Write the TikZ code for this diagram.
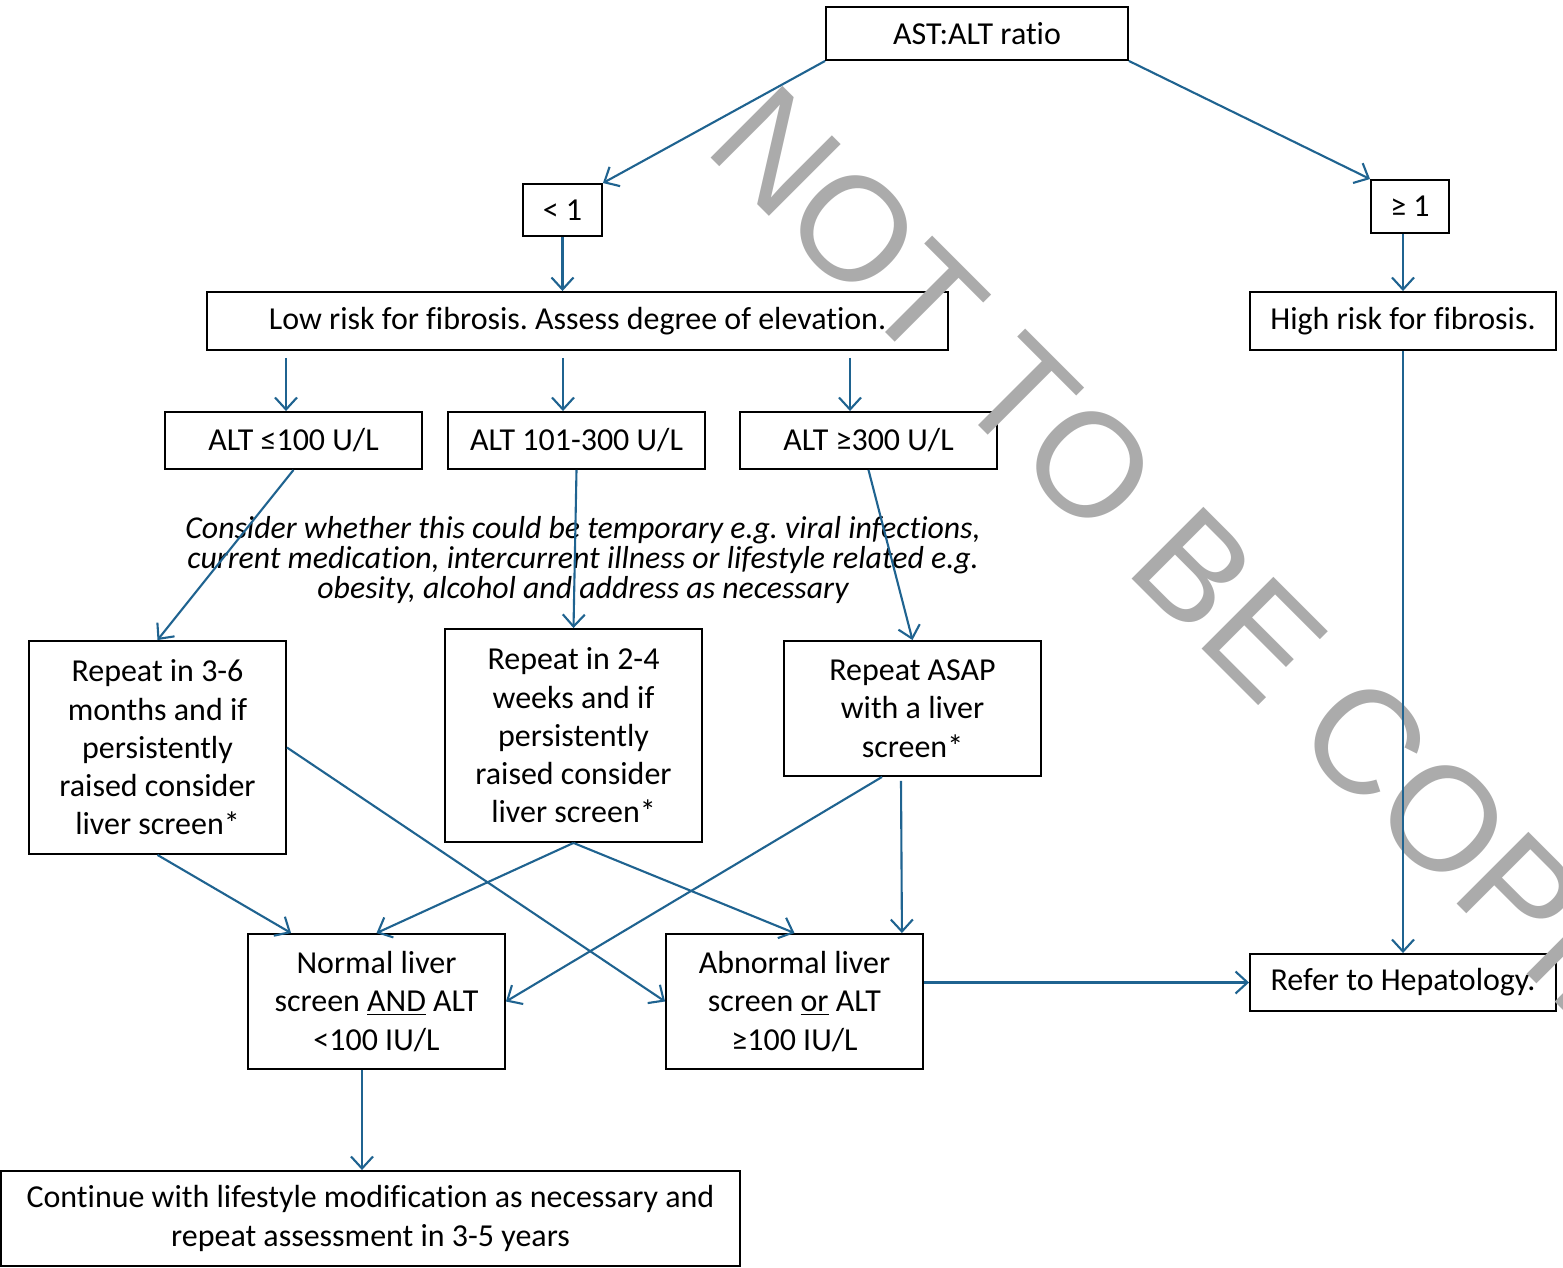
\documentclass[tikz,border=0pt]{standalone}
\usepackage{fontspec}
\setmainfont{Carlito}[Ligatures={NoCommon}]
\newfontfamily\wmfont{Liberation Sans}
\usetikzlibrary{arrows.meta,calc}
\definecolor{conn}{HTML}{1F6390}
\definecolor{wm}{HTML}{ABABAB}
\frenchspacing
\begin{document}
\begin{tikzpicture}[x=0.02cm,y=-0.02cm,
  box/.style={draw=black,line width=1.1pt,inner sep=0pt,align=center,font=\fontsize{18.2}{21.8}\selectfont},
  arr/.style={draw=conn,line width=1.2pt,-{Straight Barb[length=2.4mm,width=4.4mm,line width=1.2pt]}},
  note/.style={align=center,inner sep=0pt,font=\itshape\fontsize{18.1}{17.3}\selectfont},
  wmark/.style={anchor=base west,rotate=-45,inner sep=0pt,text=wm,font=\wmfont\fontsize{84}{90}\selectfont},
]
\useasboundingbox (0,0) rectangle (1563,1268);

\node[box,minimum width=6.04cm,minimum height=1.06cm] (ast) at (977,33.5) {AST:ALT ratio};
\node[box,minimum width=1.58cm,minimum height=1.04cm] (lt1) at (562.5,210) {< 1};
\node[box,minimum width=1.56cm,minimum height=1.06cm] (ge1) at (1410,206.5) {≥ 1};
\node[box,minimum width=14.82cm,minimum height=1.16cm] (low) at (577.5,321) {Low risk for fibrosis. Assess degree of elevation.};
\node[box,minimum width=6.12cm,minimum height=1.16cm] (high) at (1403,321) {High risk for fibrosis.};

\node[box,minimum width=5.14cm,minimum height=1.14cm] (a1) at (293.5,440.5) {ALT ≤100 U/L};
\node[box,minimum width=5.14cm,minimum height=1.14cm] (a2) at (576.5,440.5) {ALT 101-300 U/L};
\node[box,minimum width=5.14cm,minimum height=1.14cm] (a3) at (868.5,440.5) {ALT ≥300 U/L};

\node[note] (nt) at (583,560) {Consider whether this could be temporary e.g. viral infections,\\current medication, intercurrent illness or lifestyle related e.g.\\obesity, alcohol and address as necessary};

\node[box,minimum width=5.14cm,minimum height=4.26cm] (r1) at (157.5,747.5) {Repeat in 3-6\\months and if\\persistently\\raised consider\\liver screen*};
\node[box,minimum width=5.14cm,minimum height=4.26cm] (r2) at (573.5,735.5) {Repeat in 2-4\\weeks and if\\persistently\\raised consider\\liver screen*};
\node[box,minimum width=5.14cm,minimum height=2.7cm] (r3) at (912.5,708.5) {Repeat ASAP\\with a liver\\screen*};

\node[box,minimum width=5.14cm,minimum height=2.7cm] (nrm) at (376.5,1001.5) {Normal liver\\screen \underline{AND} ALT\\<100 IU/L};
\node[box,minimum width=5.14cm,minimum height=2.7cm] (abn) at (794.5,1001.5) {Abnormal liver\\screen \underline{or} ALT\\≥100 IU/L};
\node[box,minimum width=6.12cm,minimum height=1.14cm] (ref) at (1403,982.5) {Refer to Hepatology.};
\node[box,minimum width=14.78cm,minimum height=1.9cm] (cont) at (370.5,1218.5) {Continue with lifestyle modification as necessary and\\repeat assessment in 3-5 years};

\draw[arr] (ast.south west) -- (lt1.north east);
\draw[arr] (ast.south east) -- (ge1.north west);
\draw[arr] (lt1.south) -- (lt1.south |- low.north);
\draw[arr] (ge1.south -| high.north) -- (high.north);
\draw[arr] ($(low.south -| a1.north)+(-7.5,7)$) -- ($(a1.north)+(-7.5,0)$);
\draw[arr] ($(low.south -| a2.north)+(-13.5,7)$) -- ($(a2.north)+(-13.5,0)$);
\draw[arr] ($(low.south -| a3.north)+(-18.5,7)$) -- ($(a3.north)+(-18.5,0)$);
\draw[arr] (a1.south) -- (r1.north);
\draw[arr] (a2.south) -- (r2.north);
\draw[arr] (a3.south) -- (r3.north);
\draw[arr] (r1.south) -- ($(nrm.north west)+(44,0)$);
\draw[arr] (r1.east) -- (abn.west);
\draw[arr] (r2.south) -- (nrm.north);
\draw[arr] (r2.south) -- (abn.north);
\draw[arr] ($(r3.south)+(-30.5,0)$) -- (nrm.east);
\draw[arr] ($(r3.south)+(-11.5,4)$) -- ($(abn.north east)+(-22,0)$);
\draw[arr] (abn.east |- ref.west) -- (ref.west);
\draw[arr] ($(nrm.south)+(-14.5,0)$) -- ($(nrm.south |- cont.north)+(-14.5,0)$);

\begin{scope}
\clip (0,0) rectangle (1563,1268);
\node[wmark] (wm) at (702,149) {NOT TO BE COPIED};
\end{scope}

\draw[arr] (high.south) -- (ref.north);
\end{tikzpicture}
\end{document}
